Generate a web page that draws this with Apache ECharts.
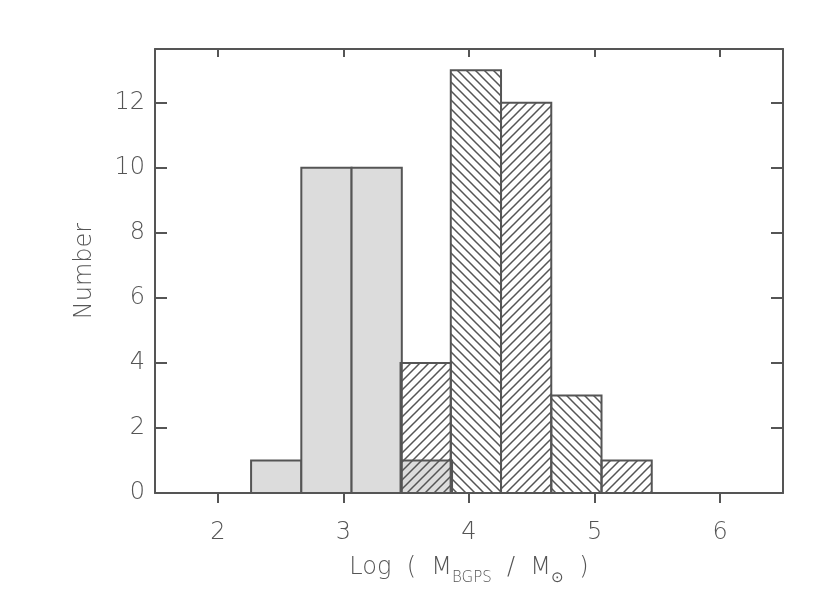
<!DOCTYPE html>
<html>
<head>
<meta charset="utf-8">
<script src="https://cdn.jsdelivr.net/npm/echarts@6/dist/echarts.min.js"></script>
<style>
html,body{margin:0;padding:0;background:#fff;}
#chart{width:830px;height:593px;}
</style>
</head>
<body>
<div id="chart"></div>
<script>
// ---- data ----
const grayBinEdges = [2.265, 2.665, 3.065, 3.465, 3.865];
const grayCounts = [1, 10, 10, 1];
const hatchBinEdges = [3.455, 3.855, 4.255, 4.655, 5.055, 5.455];
const hatchCounts = [4, 13, 12, 3, 1];
const xTicks = [2, 3, 4, 5, 6];
const yTicks = [0, 2, 4, 6, 8, 10, 12];

const INK = '#555555';
const FONT = "'DejaVu Sans ExtraLight', 'DejaVu Sans'";

function makeHatch(dir) {
  const s = 9;
  const c = document.createElement('canvas');
  c.width = s; c.height = s;
  const g = c.getContext('2d');
  g.strokeStyle = INK;
  g.lineWidth = 1.5;
  g.beginPath();
  if (dir === '/') {
    g.moveTo(-1, s + 1); g.lineTo(s + 1, -1);
    g.moveTo(-s / 2 - 1, s / 2 + 1); g.lineTo(s / 2 + 1, -s / 2 - 1);
    g.moveTo(s / 2 - 1, s * 1.5 + 1); g.lineTo(s * 1.5 + 1, s / 2 - 1);
  } else {
    g.moveTo(-1, -1); g.lineTo(s + 1, s + 1);
    g.moveTo(-s / 2 - 1, s / 2 - 1); g.lineTo(s / 2 + 1, s * 1.5 + 1);
    g.moveTo(s / 2 - 1, -s / 2 - 1); g.lineTo(s * 1.5 + 1, s / 2 + 1);
  }
  g.stroke();
  return c;
}
const hatchA = {image: makeHatch('/'), repeat: 'repeat'};
const hatchB = {image: makeHatch('\\'), repeat: 'repeat'};

function binsToData(edges, counts) {
  return counts.map((c, i) => [edges[i], edges[i + 1], c]);
}
const grayData = binsToData(grayBinEdges, grayCounts);
const hatchData = binsToData(hatchBinEdges, hatchCounts);

function rectItem(api, fill) {
  const p0 = api.coord([api.value(0), 0]);
  const p1 = api.coord([api.value(1), api.value(2)]);
  return {
    type: 'rect',
    shape: {x: p0[0], y: p1[1], width: p1[0] - p0[0], height: p0[1] - p1[1]},
    style: {fill: fill, stroke: INK, lineWidth: 2}
  };
}

const axisLineStyle = {show: true, onZero: false, lineStyle: {color: INK, width: 2}};
const labelStyle = {fontFamily: FONT, fontWeight: 200, fontSize: 24, color: INK};

const chart = echarts.init(document.getElementById('chart'), null, {renderer: 'canvas'});
chart.setOption({
  animation: false,
  backgroundColor: '#fff',
  grid: {left: 155, top: 49, width: 628, height: 444, containLabel: false},
  xAxis: [
    {
      type: 'value', min: 1.5, max: 6.5, position: 'bottom',
      axisLine: axisLineStyle,
      axisTick: {show: true, inside: false, length: 10, customValues: xTicks, lineStyle: {color: INK, width: 2}},
      axisLabel: Object.assign({customValues: xTicks, margin: 28}, labelStyle),
      splitLine: {show: false},
      name: 'Log  (  M{sub|BGPS}  /  M{sun|⊙}  )',
      nameLocation: 'middle',
      nameGap: 60,
      nameTextStyle: {
        fontFamily: FONT, fontWeight: 200, fontSize: 24, color: INK,
        lineHeight: 30,
        rich: {
          sub: {fontFamily: FONT, fontWeight: 200, fontSize: 15, color: INK, lineHeight: 14, verticalAlign: 'bottom', padding: [0, 0, -3, 0]},
          sun: {fontFamily: FONT, fontWeight: 200, fontSize: 15, color: INK, lineHeight: 14, verticalAlign: 'bottom', padding: [0, 0, -3, 0]}
        }
      }
    },
    {
      type: 'value', min: 1.5, max: 6.5, position: 'top',
      axisLine: axisLineStyle,
      axisTick: {show: true, inside: true, length: 8, customValues: xTicks, lineStyle: {color: INK, width: 2}},
      axisLabel: {show: false},
      splitLine: {show: false}
    }
  ],
  yAxis: [
    {
      type: 'value', min: 0, max: 13.65, position: 'left',
      axisLine: axisLineStyle,
      axisTick: {show: true, inside: true, length: 12, customValues: yTicks, lineStyle: {color: INK, width: 2}},
      axisLabel: Object.assign({customValues: yTicks, margin: 10}, labelStyle),
      splitLine: {show: false},
      name: 'Number',
      nameLocation: 'middle',
      nameRotate: 90,
      nameGap: 58,
      nameTextStyle: {fontFamily: FONT, fontWeight: 200, fontSize: 24, color: INK}
    },
    {
      type: 'value', min: 0, max: 13.65, position: 'right',
      axisLine: axisLineStyle,
      axisTick: {show: true, inside: true, length: 12, customValues: yTicks, lineStyle: {color: INK, width: 2}},
      axisLabel: {show: false},
      splitLine: {show: false}
    }
  ],
  series: [
    {
      type: 'custom', name: 'gray', xAxisIndex: 0, yAxisIndex: 0,
      data: grayData,
      encode: {x: [0, 1], y: 2},
      renderItem: (params, api) => rectItem(api, '#dcdcdc'),
      z: 2
    },
    {
      type: 'custom', name: 'hatched', xAxisIndex: 0, yAxisIndex: 0,
      data: hatchData,
      encode: {x: [0, 1], y: 2},
      renderItem: (params, api) => rectItem(api, params.dataIndex % 2 === 0 ? hatchA : hatchB),
      z: 3
    }
  ]
});
</script>
</body>
</html>
